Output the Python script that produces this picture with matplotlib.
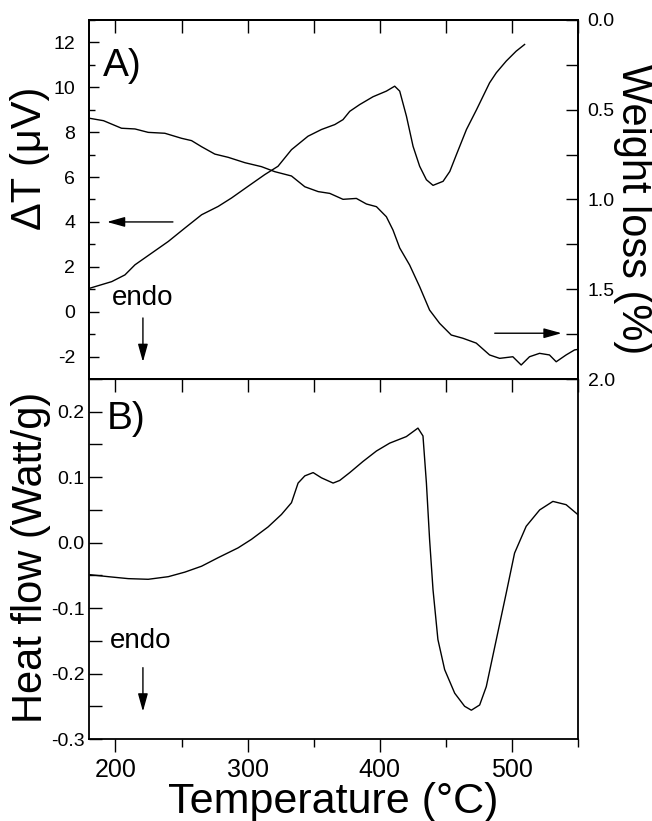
import matplotlib
matplotlib.use("Agg")
import matplotlib.pyplot as plt
import numpy as np
from matplotlib.ticker import FormatStrFormatter

plt.rcParams['font.family'] = ['Liberation Sans', 'DejaVu Sans']
plt.rcParams['axes.unicode_minus'] = False

# DTA signal, top panel, left axis (uV)
dta_T = [180.8, 197.2, 207.2, 214.8, 227.4, 240, 252.6, 265.2, 277.7, 287.9, 300.4, 313,
         323, 333.2, 345.7, 355.9, 366, 372.2, 377.3, 384.8, 394.9, 405, 411.3, 415.1,
         420.2, 425.2, 430.2, 435.3, 440.3, 447.9, 453, 458, 465.6, 473.2, 483.1, 488.2,
         495.7, 503.2, 509.6]
dta_dT = [1.05, 1.34, 1.64, 2.09, 2.61, 3.13, 3.73, 4.32, 4.69, 5.07, 5.59, 6.11,
          6.48, 7.22, 7.82, 8.12, 8.34, 8.56, 8.93, 9.23, 9.58, 9.83, 10.05, 9.83,
          8.71, 7.37, 6.48, 5.88, 5.63, 5.81, 6.25, 7.0, 8.12, 9.0, 10.2, 10.65,
          11.17, 11.61, 11.91]

# TG weight loss, top panel, right axis (%)
tg_T = [180.8, 191, 204.6, 214.8, 224.8, 237.4, 250, 257.6, 265.2, 275.2, 285.3, 298,
        310.5, 320.6, 333.2, 343.3, 353.4, 362.2, 372.2, 382.3, 389.9, 397.5, 405, 410,
        415.1, 422.6, 430.2, 437.7, 445.3, 454.1, 462.9, 473, 483.1, 490.7, 500.7, 507,
        513.3, 520.9, 528.4, 533.5, 541, 547.4, 550]
tg_wl = [0.548, 0.561, 0.603, 0.607, 0.626, 0.631, 0.659, 0.672, 0.706, 0.747, 0.765, 0.795,
         0.817, 0.845, 0.869, 0.929, 0.956, 0.966, 0.999, 0.994, 1.025, 1.04, 1.096, 1.17,
         1.27, 1.365, 1.486, 1.616, 1.69, 1.755, 1.773, 1.80, 1.866, 1.885, 1.876, 1.922,
         1.876, 1.857, 1.866, 1.904, 1.866, 1.838, 1.835]

# DSC heat flow, bottom panel (Watt/g)
dsc_T = [180.8, 194.6, 209.7, 224.8, 240, 252.6, 265.2, 277.7, 292.8, 302.9, 315.5, 325.6,
         333.2, 338.2, 343.3, 349.6, 355.9, 364.7, 369.7, 377.3, 387.3, 397.5, 407.5, 420.1,
         428.9, 432.7, 435.3, 437.7, 440.3, 444, 449.1, 456.7, 464.2, 469.3, 475.6, 480.6,
         488.2, 495.7, 502, 510.8, 521, 531, 541, 549.8]
dsc_hf = [-0.049, -0.052, -0.055, -0.056, -0.052, -0.045, -0.036, -0.023, -0.008, 0.005, 0.024, 0.043,
          0.061, 0.091, 0.102, 0.107, 0.099, 0.091, 0.095, 0.107, 0.124, 0.14, 0.152, 0.162,
          0.175, 0.163, 0.091, 0.005, -0.072, -0.148, -0.194, -0.23, -0.25, -0.256, -0.248, -0.22,
          -0.148, -0.077, -0.016, 0.025, 0.05, 0.063, 0.058, 0.043]

W, H = 652, 821
fig = plt.figure(figsize=(W / 100, H / 100), dpi=100)
ax1 = fig.add_axes([89 / W, 1 - 379 / H, 489 / W, 359 / H])
ax2 = fig.add_axes([89 / W, 1 - 739 / H, 489 / W, 360 / H])

lw_sp = 1.3
arr = dict(arrowstyle='-|>,head_length=0.9,head_width=0.25', color='black', lw=1, mutation_scale=12,
           shrinkA=0, shrinkB=0)
for a in (ax1, ax2):
    for s in a.spines.values():
        s.set_linewidth(lw_sp)
    a.set_xlim(180, 550)

# top panel
ax1.plot(dta_T, dta_dT, color='black', lw=1.0)
ax1.set_ylim(-3, 13)
ax1.set_yticks(np.arange(-2, 13, 2))
ax1.set_yticks(np.arange(-3, 14, 2), minor=True)
ax1.tick_params(axis='y', which='major', direction='in', length=7, width=1, labelsize=14, pad=10)
ax1.tick_params(axis='y', which='minor', direction='in', length=4, width=1)
ax1.set_xticks([])
top1 = ax1.secondary_xaxis('top')
top1.set_xticks(np.arange(200, 551, 50))
top1.tick_params(direction='in', length=9, width=1, labeltop=False)
top1.spines['top'].set_linewidth(lw_sp)

ax1r = ax1.twinx()
ax1r.plot(tg_T, tg_wl, color='black', lw=1.0)
ax1r.set_ylim(2.0, 0.0)
ax1r.set_yticks([0.0, 0.5, 1.0, 1.5, 2.0])
ax1r.set_yticks(np.arange(0.25, 2.0, 0.5), minor=True)
ax1r.yaxis.set_major_formatter(FormatStrFormatter('%.1f'))
ax1r.tick_params(axis='y', which='major', direction='in', length=9, width=1, labelsize=14, pad=7)
ax1r.tick_params(axis='y', which='minor', direction='in', length=9, width=1)
for s in ax1r.spines.values():
    s.set_linewidth(lw_sp)

fig.text(30 / W, 1 - 158 / H, 'ΔT (μV)', fontsize=30, rotation=90, ha='center', va='center')
fig.text(633 / W, 1 - 209 / H, 'Weight loss (%)', fontsize=30, rotation=-90, ha='center', va='center')

fig.text(103 / W, 1 - 76 / H, 'A)', fontsize=28, ha='left', va='baseline')
fig.text(112 / W, 1 - 305 / H, 'endo', fontsize=20, ha='left', va='baseline')
ax1.annotate('', xy=(220.8, -2.24), xytext=(220.8, -0.28), arrowprops=arr)
ax1.annotate('', xy=(193.6, 4.0), xytext=(243.5, 4.0), arrowprops=arr)
ax1r.annotate('', xy=(537.6, 1.745), xytext=(487, 1.745), arrowprops=arr)

# bottom panel
ax2.plot(dsc_T, dsc_hf, color='black', lw=1.0)
ax2.set_ylim(-0.3, 0.25)
ax2.set_yticks(np.arange(-0.3, 0.21, 0.1))
ax2.set_yticks(np.arange(-0.25, 0.26, 0.1), minor=True)
ax2.yaxis.set_major_formatter(FormatStrFormatter('%.1f'))
ax2.tick_params(axis='y', which='major', direction='in', length=9, width=1, labelsize=14, pad=3)
ax2.tick_params(axis='y', which='minor', direction='in', length=9, width=1)
ax2.set_xticks([200, 300, 400, 500])
ax2.set_xticks([250, 350, 450, 550], minor=True)
ax2.tick_params(axis='x', which='major', direction='out', length=9, width=1, labelsize=18, pad=5)
ax2.tick_params(axis='x', which='minor', direction='out', length=6, width=1)
top2 = ax2.secondary_xaxis('top')
top2.set_xticks(np.arange(200, 551, 50))
top2.tick_params(direction='in', length=9, width=1, labeltop=False)

fig.text(31 / W, 1 - 557 / H, 'Heat flow (Watt/g)', fontsize=30, rotation=90, ha='center', va='center')
fig.text(333 / W, 1 - 813 / H, 'Temperature (°C)', fontsize=31, ha='center', va='baseline')

fig.text(107 / W, 1 - 429 / H, 'B)', fontsize=28, ha='left', va='baseline')
fig.text(110 / W, 1 - 648 / H, 'endo', fontsize=20, ha='left', va='baseline')
ax2.annotate('', xy=(220.8, -0.258), xytext=(220.8, -0.191), arrowprops=arr)

fig.savefig('out.png', dpi=100)
